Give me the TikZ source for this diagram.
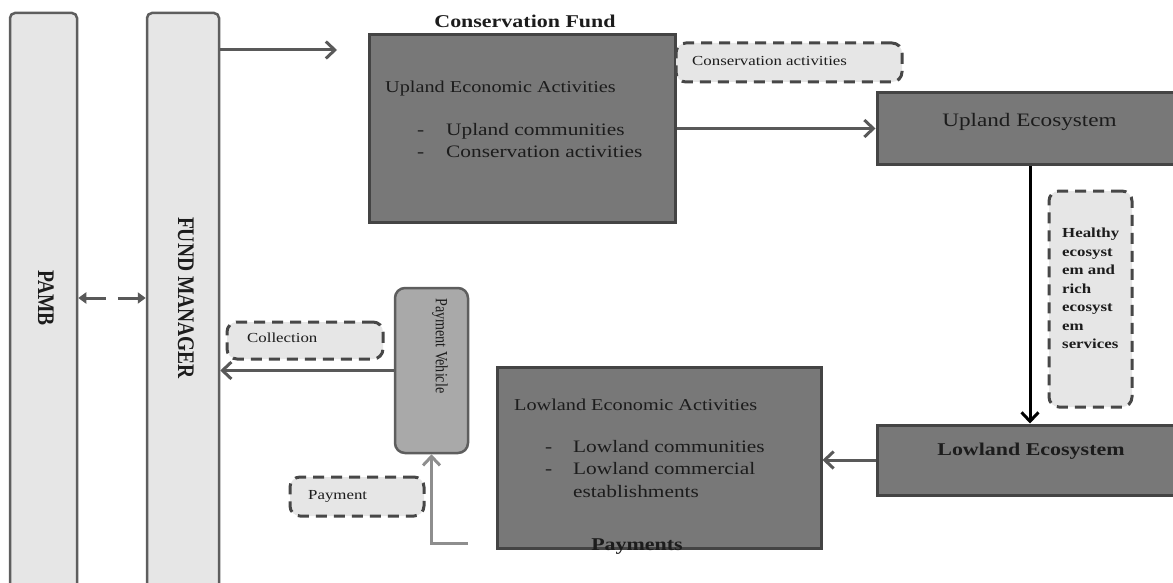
\documentclass[tikz,border=0pt]{standalone}
\usepackage{fontspec}
\usepackage{graphicx}
\setmainfont{Liberation Serif}[FakeStretch=1.22]
\newfontfamily\rotserif{Liberation Serif}
\usetikzlibrary{arrows.meta,positioning}

\definecolor{barfill}{HTML}{E6E6E6}
\definecolor{barline}{HTML}{5E5E5E}
\definecolor{boxfill}{HTML}{787878}
\definecolor{boxline}{HTML}{444444}
\definecolor{vehiclefill}{HTML}{A9A9A9}
\definecolor{notedash}{HTML}{474747}
\definecolor{flowgray}{HTML}{595959}
\definecolor{paygray}{HTML}{8E8E8E}
\definecolor{inktext}{HTML}{1C1C1C}

\newcommand{\fsz}[2]{\fontsize{#1}{#2}\selectfont}
\newcommand{\wide}[1]{\scalebox{1}[1.22]{#1}}

\begin{document}
\begin{tikzpicture}[x=1pt,y=-1pt,
    bar/.style={draw=barline,fill=barfill,line width=2.5pt,rounded corners=5pt,inner sep=0pt},
    ecobox/.style={draw=boxline,fill=boxfill,line width=3pt,inner sep=0pt},
    note/.style={draw=notedash,fill=barfill,line width=3pt,dash pattern=on 11pt off 7pt,rounded corners=10pt,inner sep=0pt},
    flow/.style={draw=flowgray,line width=3pt,-{Straight Barb[length=9pt,width=17pt]}},
    link/.style={draw=flowgray,line width=3pt,dash pattern=on 20pt off 12pt on 60pt off 12pt,{Triangle[length=8pt,width=11pt]}-{Triangle[length=8pt,width=11pt]}},
    txt/.style={inner sep=0pt,text=inktext},
    item/.style={txt,anchor=base west,font=\fsz{17.5pt}{22pt}}]
    \useasboundingbox (0,0) rectangle (1173,583);
% Bars
    \node[bar,minimum width=67pt,minimum height=590pt] (pamb) at (43.5,308) {};
    \node[bar,minimum width=72pt,minimum height=590pt] (fund) at (183,308) {};
    \node[txt,rotate=-90,font=\rotserif\bfseries\fsz{19.5pt}{20pt}] (pambname) at (46,298) {\wide{PAMB}};
    \node[txt,rotate=-90,font=\rotserif\bfseries\fsz{19.5pt}{20pt}] (fundname) at (186,298) {\wide{FUND MANAGER}};
    \draw[link] (pamb.east |- pambname) -- (fund.west |- pambname);
% Conservation fund
    \node[ecobox,minimum width=306pt,minimum height=187pt] (upecon) at (522,128.5) {};
    \node[txt,font=\bfseries\fsz{18pt}{20pt}] (fundtitle) at (525,21) {Conservation Fund};
    \node[txt,anchor=base west,font=\fsz{16.6pt}{20pt}] (upecontitle) at (385,93) {Upland Economic Activities};
    \foreach \t [count=\i] in {Upland communities,Conservation activities}
        \node[item] (upitem\i) at (417,{114+22*\i}) {\makebox[29pt][l]{-}\t};
    \node[note,minimum width=226pt,minimum height=39pt] (consnote) at (789,62.5) {};
    \node[txt,anchor=base west,font=\fsz{13.8pt}{16pt}] (constext) at (692,66) {Conservation activities};
    \coordinate (fundout) at (337,50);
    \draw[flow] (fund.east |- fundout) -- (fundout);
% Ecosystems
    \node[ecobox,minimum width=306pt,minimum height=72pt] (upeco) at (1030,129) {};
    \node[txt,anchor=base,font=\fsz{19pt}{20pt}] (upecotext) at (1029.5,127) {Upland Ecosystem};
    \node[ecobox,minimum width=306pt,minimum height=70pt] (loweco) at (1030,460) {};
    \node[txt,anchor=base,font=\bfseries\fsz{18pt}{20pt}] (lowecotext) at (1031,455) {Lowland Ecosystem};
    \node[note,minimum width=83pt,minimum height=216pt] (healthnote) at (1090.5,299) {};
    \node[txt,anchor=north west,align=left,font=\bfseries\fsz{13.8pt}{18.5pt}] (healthtext) at (1062,228)
        {Healthy\\ecosyst\\em and\\rich\\ecosyst\\em\\services};
    \draw[flow] (upecon.east) -- (upecon.east -| upeco.west);
    \draw[flow,draw=black] (upeco.south) -- (loweco.north);
% Lowland activities
    \node[ecobox,minimum width=324pt,minimum height=181pt] (lowecon) at (659,457.5) {};
    \node[txt,anchor=base west,font=\fsz{16.6pt}{20pt}] (lowecontitle) at (514,410) {Lowland Economic Activities};
    \foreach \d/\t [count=\i] in {-/Lowland communities,-/Lowland commercial,/establishments}
        \node[item] (lowitem\i) at (545,{429.5+22.5*\i}) {\makebox[28pt][l]{\d}\t};
    \node[txt,anchor=base,font=\bfseries\fsz{18pt}{20pt}] (paytitle) at (637,550) {Payments};
    \draw[flow] (loweco.west) -- (loweco.west -| lowecon.east);
% Payment vehicle
    \node[bar,fill=vehiclefill,rounded corners=10pt,minimum width=73pt,minimum height=165pt] (vehicle) at (431.5,370.5) {};
    \node[txt,rotate=-90,anchor=west,font=\rotserif\fsz{14.1pt}{16pt}] (vehicletext) at (440,298) {\wide{Payment Vehicle}};
    \node[note,minimum width=156pt,minimum height=37pt] (collectnote) at (305,340.5) {};
    \node[txt,anchor=west,font=\fsz{13.8pt}{16pt}] (collecttext) at (247,338) {Collection};
    \node[note,minimum width=134pt,minimum height=39pt] (paynote) at (357,496.5) {};
    \node[txt,anchor=base west,font=\fsz{13.8pt}{16pt}] (paytext) at (308,499) {Payment};
    \draw[flow] (vehicle.west) -- (vehicle.west -| fund.east);
    \coordinate (payin) at (468,543);
    \draw[flow,draw=paygray] (payin) -| (vehicle.south);
\end{tikzpicture}
\end{document}
